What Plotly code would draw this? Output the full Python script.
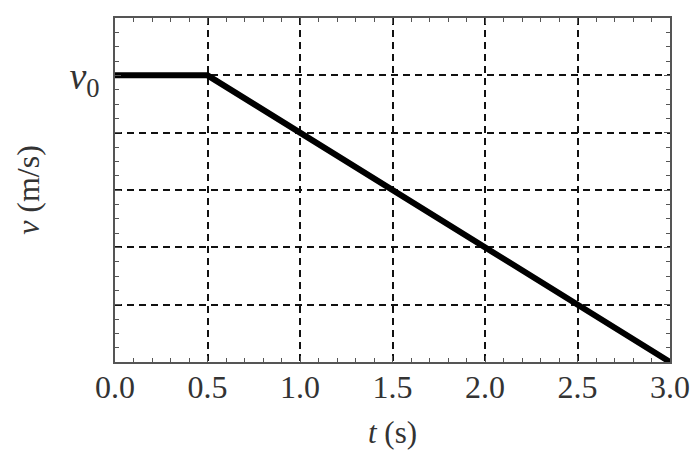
import plotly.graph_objects as go

t_vals = [0.0, 0.5, 3.0]
v_vals = [5.0, 5.0, 0.0]

x_ticks = [0.0, 0.5, 1.0, 1.5, 2.0, 2.5, 3.0]
x_ticktext = ["0.0", "0.5", "1.0", "1.5", "2.0", "2.5", "3.0"]
y_ticks = [1, 2, 3, 4, 5]
y_ticktext = ["", "", "", "", "<i>v</i><sub>0</sub>"]

FONT = "Liberation Serif"
OFF = 8  # page body margin

fig = go.Figure()
fig.add_trace(go.Scatter(x=t_vals, y=v_vals, mode="lines",
                         line=dict(color="black", width=6), showlegend=False,
                         cliponaxis=False))

fig.update_layout(
    width=699 - OFF, height=464 - OFF,
    margin=dict(l=115 - OFF, r=29, t=16 - OFF, b=102),
    paper_bgcolor="white", plot_bgcolor="white",
    font=dict(family=FONT, size=30, color="#333"),
    xaxis=dict(range=[0, 3], tickvals=x_ticks, ticktext=x_ticktext,
               showgrid=True, gridcolor="#111", griddash="7px,5px", gridwidth=1.5,
               showline=True, linecolor="#555", linewidth=1.5, mirror="allticks",
               ticks="inside", ticklen=6, tickcolor="#555", tickwidth=1.2,
               minor=dict(dtick=0.1, ticks="inside", ticklen=4, tickcolor="#555", showgrid=False),
               zeroline=False, tickfont=dict(size=32), ticklabelstandoff=-4,
               title=dict(text="<i>t</i> (s)", font=dict(size=31), standoff=17)),
    yaxis=dict(range=[0, 6], tickvals=y_ticks, ticktext=y_ticktext,
               showgrid=True, gridcolor="#111", griddash="7px,5px", gridwidth=1.5,
               showline=True, linecolor="#555", linewidth=1.5, mirror="allticks",
               ticks="inside", ticklen=6, tickcolor="#555", tickwidth=1.2,
               minor=dict(dtick=0.25, ticks="inside", ticklen=4, tickcolor="#555", showgrid=False),
               zeroline=False, tickfont=dict(size=38), ticklabelstandoff=6,
               title=dict(text="<i>v</i> (m/s)", font=dict(size=32), standoff=20)),
)

fig.write_html("out.html")
